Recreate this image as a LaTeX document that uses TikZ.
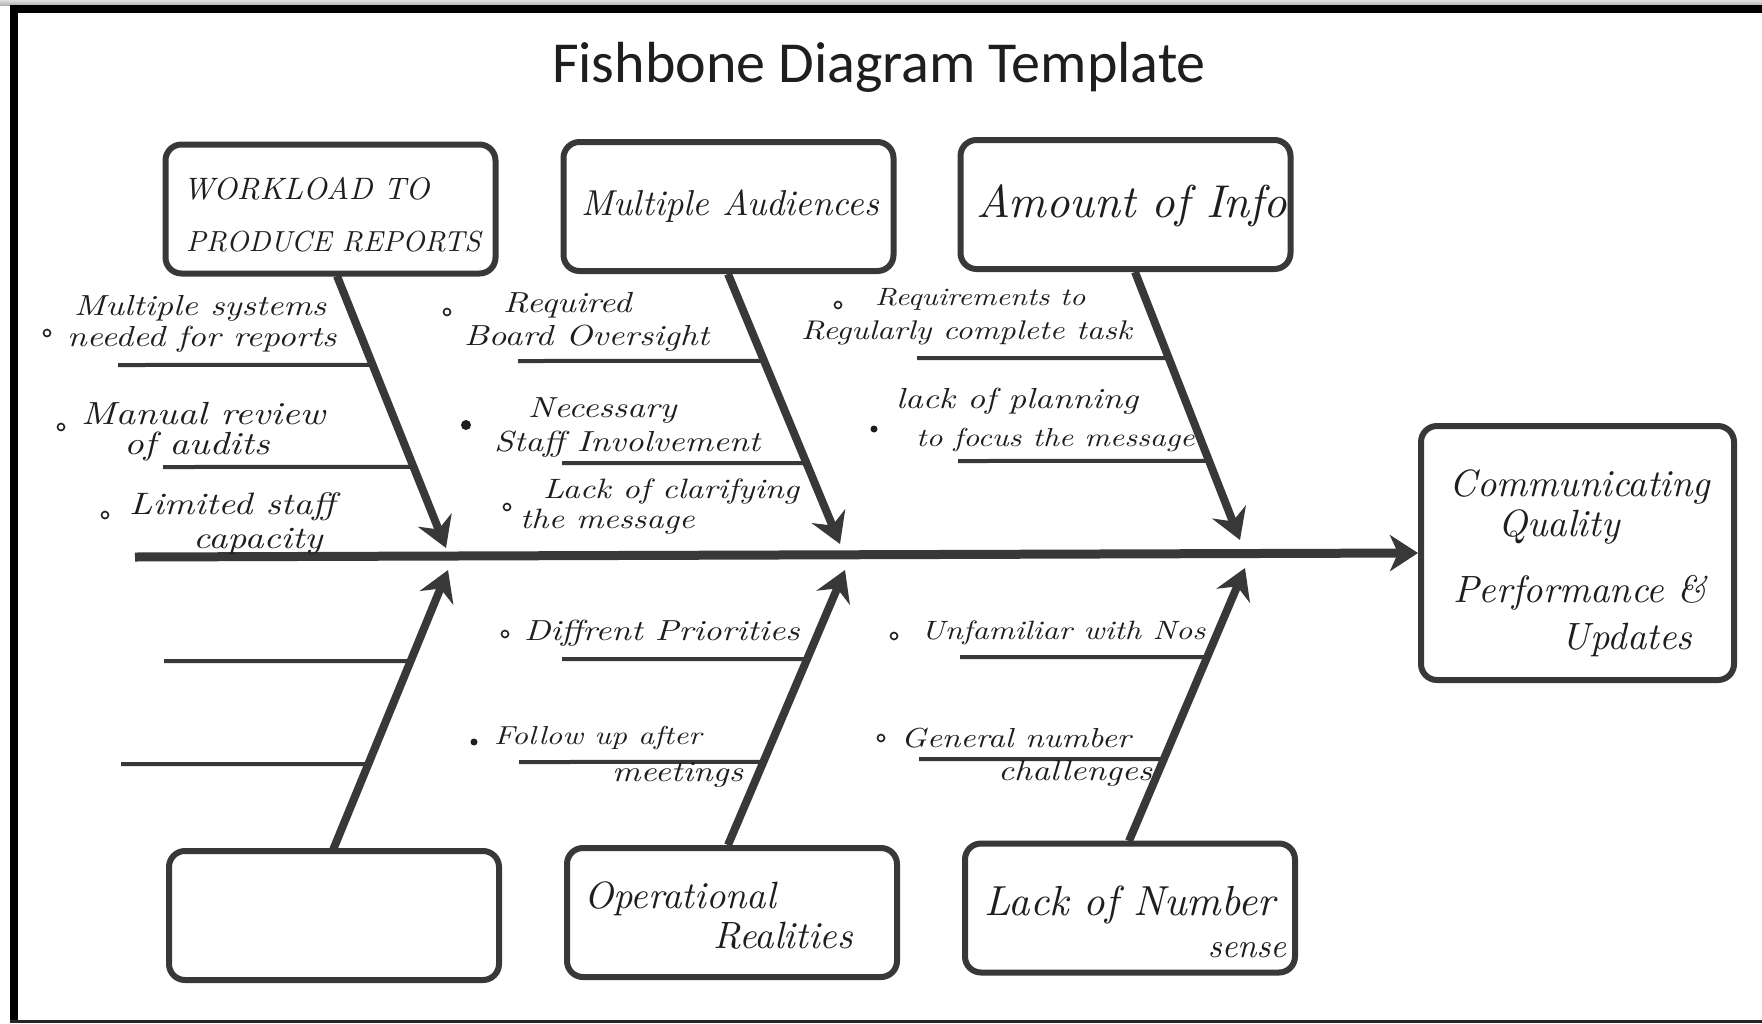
\documentclass[tikz,border=0pt]{standalone}
\usepackage{fontspec}
\usetikzlibrary{arrows.meta,calc}
\newfontfamily\titlefont{Carlito}
\newfontfamily\hand{lmroman10-italic.otf}[FakeStretch=1.2]
\newfontfamily\handtall{lmroman10-italic.otf}
\definecolor{ink}{HTML}{383838}
\definecolor{pen}{HTML}{1E1E1E}

\begin{document}
\begin{tikzpicture}[x=1pt,y=-1pt,
  box/.style={draw=ink, line width=6pt, rounded corners=16pt,
    minimum width=330pt, minimum height=129pt, inner sep=0pt},
  bone/.style={draw=ink, line width=8pt,
    -{Stealth[length=30pt,width=36pt,inset=10pt]}},
  spine/.style={draw=ink, line width=9pt,
    -{Stealth[length=28pt,width=36pt,inset=8pt]}},
  rib/.style={draw=ink, line width=4pt},
  note/.style={font=\hand\fontsize{#1}{#1}\selectfont, text=pen,
    anchor=west, inner sep=0pt},
  note/.default=29,
  head/.style={font=\handtall\fontsize{#1}{#1}\selectfont, text=pen,
    inner sep=0pt},
  head/.default=38,
  ring/.style={draw=pen, line width=1.6pt},
  dot/.style={fill=pen}]

\useasboundingbox (0,0) rectangle (1762,1023);
\fill[white] (0,0) rectangle (1762,1023);

% page frame
\shade[top color=gray!25, bottom color=gray!60] (0,0) rectangle (1762,5);
\fill[black] (10,5) rectangle (1762,13);
\fill[black] (10,5) rectangle (18,1023);
\fill[black!85] (10,1020) rectangle (1762,1023);

% title
\node[font=\titlefont\fontsize{58}{58}\selectfont, text=pen] (title)
  at (879,67) {Fishbone Diagram Template};

% cause boxes, top row
\node[box] (c1) at (330.5,209) {};
\node[box] (c2) at (728.5,206.5) {};
\node[box] (c3) at (1125.5,204.5) {};
% cause boxes, bottom row
\node[box] (c4) at (334,915.5) {};
\node[box] (c5) at (732,912.5) {};
\node[box] (c6) at (1130,908) {};
% effect box
\node[box, minimum width=313pt, minimum height=254pt] (effect) at (1577.5,553) {};

% box captions
\node[head=31, anchor=west] (c1a) at (183,189) {WORKLOAD TO};
\node[head=29, anchor=west] (c1b) at (186,242) {PRODUCE REPORTS};
\node[head=36] (c2a) at (730,206) {Multiple Audiences};
\node[head=46] (c3a) at (1132,206) {Amount of Info};
\node[head] (c5a) at (680,899) {Operational};
\node[head] (c5b) at (783,936) {Realities};
\node[head=42] (c6a) at (1130,905) {Lack of Number};
\node[head=34] (c6b) at (1247,950) {sense};
\node[head] (e1) at (1580,487) {Communicating};
\node[head] (e2) at (1559,527) {Quality};
\node[head] (e3) at (1580,593) {Performance \&};
\node[head] (e4) at (1627,640) {Updates};

% spine
\coordinate (tail) at (135,557);
\draw[spine] (tail) -- (effect.west);

% bone ends
\coordinate (b1s) at (337,276);  \coordinate (b1t) at (446,548);
\coordinate (b2s) at (728,274);  \coordinate (b2t) at (840,544);
\coordinate (b3s) at (1135,272); \coordinate (b3t) at (1240,540);
\coordinate (b4s) at (333,850);  \coordinate (b4t) at (448,570);
\coordinate (b5s) at (728,845);  \coordinate (b5t) at (845,570);
\coordinate (b6s) at (1129,841); \coordinate (b6t) at (1245,568);

% ribs (drawn first so the bones sit on top)
\coordinate (r1a) at (118,365); \coordinate (r1b) at (163,467);
\coordinate (r2a) at (518,361); \coordinate (r2b) at (562,463);
\coordinate (r3a) at (917,358); \coordinate (r3b) at (958,461);
\coordinate (r4a) at (164,661); \coordinate (r4b) at (121,764);
\coordinate (r5a) at (562,659); \coordinate (r5b) at (519,762);
\coordinate (r6a) at (960,657); \coordinate (r6b) at (919,759);
\draw[rib] (r1a) -- ($(b1s)!0.327!(b1t)$);
\draw[rib] (r1b) -- ($(b1s)!0.702!(b1t)$);
\draw[rib] (r2a) -- ($(b2s)!0.322!(b2t)$);
\draw[rib] (r2b) -- ($(b2s)!0.700!(b2t)$);
\draw[rib] (r3a) -- ($(b3s)!0.321!(b3t)$);
\draw[rib] (r3b) -- ($(b3s)!0.705!(b3t)$);
\draw[rib] (r4a) -- ($(b4s)!0.675!(b4t)$);
\draw[rib] (r4b) -- ($(b4s)!0.307!(b4t)$);
\draw[rib] (r5a) -- ($(b5s)!0.676!(b5t)$);
\draw[rib] (r5b) -- ($(b5s)!0.302!(b5t)$);
\draw[rib] (r6a) -- ($(b6s)!0.674!(b6t)$);
\draw[rib] (r6b) -- ($(b6s)!0.300!(b6t)$);

% bones
\draw[bone] (b1s) -- (b1t);
\draw[bone] (b2s) -- (b2t);
\draw[bone] (b3s) -- (b3t);
\draw[bone] (b4s) -- (b4t);
\draw[bone] (b5s) -- (b5t);
\draw[bone] (b6s) -- (b6t);

% notes: workload
\draw[ring] (47,333) circle (3.5);
\node[note] (n1) at (74,308) {Multiple systems};
\node[note] (n2) at (67,339) {needed for reports};
\draw[ring] (61,427) circle (3.5);
\node[note=32] (n3) at (81,414) {Manual review};
\node[note=32] (n4) at (124,446) {of audits};
\draw[ring] (105,515) circle (3.5);
\node[note=31] (n5) at (129,507) {Limited staff};
\node[note=31] (n6) at (193,542) {capacity};

% notes: audiences
\draw[ring] (447,312) circle (3.5);
\node[note] (n7) at (503,305) {Required};
\node[note] (n8) at (464,338) {Board Oversight};
\fill[dot] (466,425) circle (5);
\node[note] (n9) at (528,411) {Necessary};
\node[note] (n10) at (494,444) {Staff Involvement};
\draw[ring] (507,507) circle (3.5);
\node[note=28] (n11) at (543,491) {Lack of clarifying};
\node[note=28] (n12) at (520,522) {the message};

% notes: amount of info
\draw[ring] (838,305) circle (3.5);
\node[note=25] (n13) at (875,299) {Requirements to};
\node[note=27] (n14) at (801,333) {Regularly complete task};
\fill[dot] (874,429) circle (3.5);
\node[note] (n15) at (896,401) {lack of planning};
\node[note=26] (n16) at (916,440) {to focus the message};

% notes: operational realities
\draw[ring] (505,634) circle (3.5);
\node[note] (n17) at (524,633) {Diffrent Priorities};
\fill[dot] (474,742) circle (3.5);
\node[note=26] (n18) at (494,738) {Follow up after};
\node[note] (n19) at (612,775) {meetings};

% notes: number sense
\draw[ring] (894,636) circle (3.5);
\node[note=26.5] (n20) at (921,633) {Unfamiliar with Nos};
\draw[ring] (881,738) circle (3.5);
\node[note=27.5] (n21) at (901,738) {General number};
\node[note] (n22) at (998,773) {challenges};

\end{tikzpicture}
\end{document}
